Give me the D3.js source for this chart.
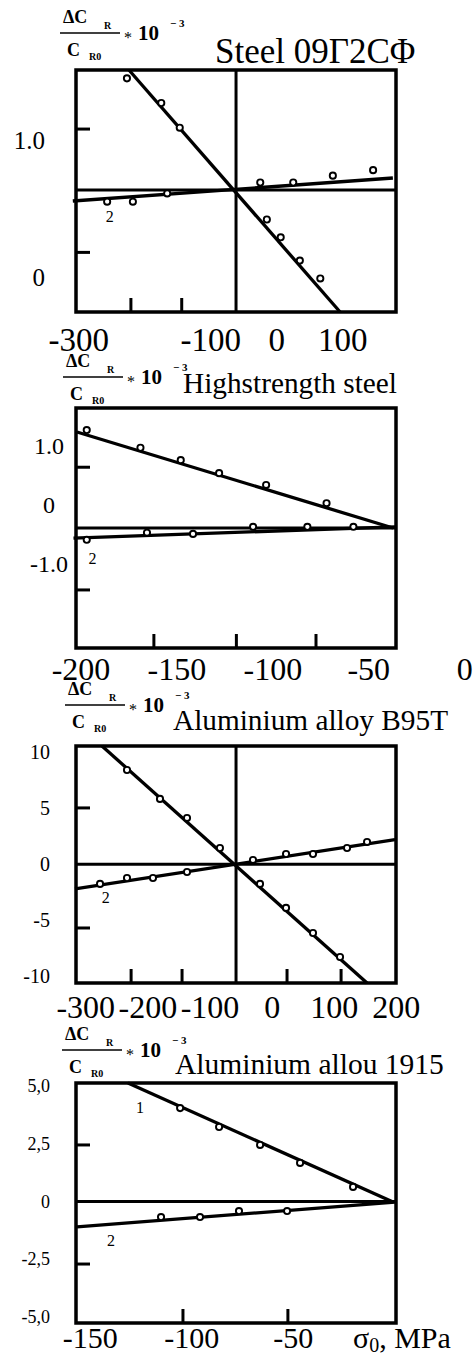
<!DOCTYPE html>
<html>
<head>
<meta charset="utf-8">
<script src="https://cdn.jsdelivr.net/npm/d3@7"></script>
<style>
  body { margin: 0; background: #fff; }
  text { font-family: "Liberation Serif", "Times New Roman", serif; fill: #000; }
</style>
</head>
<body>
<div id="my_dataviz"></div>
<script>
var width = 473
var height = 1361

// ---- Steel 09G2SF ----
var steelX1 = [-227, -175, -147, -15, 6, 35, 66]
var steelY1 = [1.45, 1.27, 1.09, 0.42, 0.29, 0.12, -0.01]
var steelX2 = [-257, -218, -166, -25, 25, 85, 146]
var steelY2 = [0.55, 0.55, 0.61, 0.69, 0.69, 0.74, 0.78]
var steelFit1 = [[-224, 1.511], [96, -0.255]]
var steelFit2 = [[-309, 0.555], [176, 0.723]]
var steelXTicks = [-300, -100, 0, 100]
var steelXLabels = ["-300", "-100", "0", "100"]
var steelYTicks = [1.0, 0]
var steelYLabels = ["1.0", "0"]
var steelXMarks = [-221, -144]
var steelYMarks = [1.08, 0.18]

// ---- Highstrength steel ----
var hsX1 = [-197, -169, -148, -128, -103.5, -72]
var hsY1 = [1.27, 0.97, 0.76, 0.54, 0.34, 0.03]
var hsX2 = [-197, -165.6, -141.6, -110.3, -82, -58]
var hsY2 = [-0.59, -0.47, -0.49, -0.37, -0.37, -0.37]
var hsFit1 = [[-202.1, 1.237], [-37.3, -0.39]]
var hsFit2 = [[-203.9, -0.56], [-36.3, -0.37]]
var hsXTicks = [-200, -150, -100, -50, 0]
var hsXLabels = ["-200", "-150", "-100", "-50", "0"]
var hsYTicks = [1.0, 0, -1.0]
var hsYLabels = ["1.0", "0", "-1.0"]
var hsXMarks = [-162, -119, -77.5]
var hsYMarks = [0.64, -1.44]

// ---- Aluminium alloy B95T ----
var b95X1 = [-233.6, -180.5, -137, -84, -19.5, 22.4, 65.8, 109.3]
var b95Y1 = [8.44, 5.85, 4.14, 1.45, -1.77, -3.92, -6.17, -8.32]
var b95X2 = [-277, -233.6, -191.8, -137, -30.8, 22.4, 65.8, 120.6, 152.8]
var b95Y2 = [-1.77, -1.24, -1.24, -0.7, 0.38, 0.91, 0.91, 1.45, 1.99]
var b95Fit1 = [[-273.9, 10.59], [152.8, -10.65]]
var b95Fit2 = [[-317.3, -2.22], [197.8, 2.19]]
var b95XTicks = [-300, -200, -100, 0, 100, 200]
var b95XLabels = ["-300", "-200", "-100", "0", "100", "200"]
var b95YTicks = [10, 5, 0, -5, -10]
var b95YLabels = ["10", "5", "0", "-5", "-10"]
var b95XMarks = [-227, -145, 24, 111]
var b95YMarks = [5.04, -5.72]

// ---- Aluminium allou 1915 ----
var al1915X1 = [-105.7, -86.5, -66.3, -46.6, -20.5]
var al1915Y1 = [4.05, 3.23, 2.45, 1.67, 0.63]
var al1915X2 = [-115.1, -95.9, -76.7, -53]
var al1915Y2 = [-0.68, -0.68, -0.42, -0.42]
var al1915Fit1 = [[-131.4, 5.14], [-0.8, -0.03]]
var al1915Fit2 = [[-156.5, -1.11], [0.2, -0.03]]
var al1915XTicks = [-150, -100, -50]
var al1915XLabels = ["-150", "-100", "-50"]
var al1915YTicks = [5, 2.5, 0, -2.5, -5]
var al1915YLabels = ["5,0", "2,5", "0", "-2,5", "-5,0"]
var al1915XMarks = [-104.3, -52.6]
var al1915YMarks = [2.45, -2.72]

var panels = [
  { title: "Steel 09Γ2CΦ", titleX: 215, titleY: 63, titleSize: 35, top: 70, bottom: 312,
    xDomain: [-304.2, 180.7], yDomain: [-0.255, 1.511],
    x1: steelX1, y1: steelY1, x2: steelX2, y2: steelY2, fit1: steelFit1, fit2: steelFit2,
    xTicks: steelXTicks, xLabels: steelXLabels, yTicks: steelYTicks, yLabels: steelYLabels,
    xMarks: steelXMarks, yMarks: steelYMarks, hLine: 0.635, vLine: -61.7,
    notes: [{ t: "2", x: -253, y: 0.445 }],
    xLabelSize: 33, xLabelDy: 39, yLabelSize: 25, yLabelX: 45, yAnchor: "end",
    fracX: 60, fracY: 33 },
  { title: "Highstrength steel", titleX: 183, titleY: 393, titleSize: 29.3, top: 408, bottom: 648,
    xDomain: [-202.6, -35.8], yDomain: [-2.424, 1.644],
    x1: hsX1, y1: hsY1, x2: hsX2, y2: hsY2, fit1: hsFit1, fit2: hsFit2,
    xTicks: hsXTicks, xLabels: hsXLabels, yTicks: hsYTicks, yLabels: hsYLabels,
    xMarks: hsXMarks, yMarks: hsYMarks, hLine: -0.39, vLine: null,
    notes: [{ t: "2", x: -194, y: -0.9 }],
    xLabelSize: 32, xLabelDy: 32, yLabelSize: 24, yLabelX: 49, yAnchor: "middle",
    fracX: 63, fracY: 377 },
  { title: "Aluminium alloy B95T", titleX: 173, titleY: 730, titleSize: 29.3, top: 746, bottom: 983,
    xDomain: [-315.7, 199.4], yDomain: [-10.65, 10.59],
    x1: b95X1, y1: b95Y1, x2: b95X2, y2: b95Y2, fit1: b95Fit1, fit2: b95Fit2,
    xTicks: b95XTicks, xLabels: b95XLabels, yTicks: b95YTicks, yLabels: b95YLabels,
    xMarks: b95XMarks, yMarks: b95YMarks, hLine: 0, vLine: -58.1,
    notes: [{ t: "2", x: -268, y: -3.02 }],
    xLabelSize: 32, xLabelDy: 35, yLabelSize: 20, yLabelX: 50, yAnchor: "end",
    fracX: 65, fracY: 705 },
  { title: "Aluminium allou 1915", titleX: 175, titleY: 1074, titleSize: 29.5, top: 1083, bottom: 1323,
    xDomain: [-157, 0.66], yDomain: [-5.28, 5.14],
    x1: al1915X1, y1: al1915Y1, x2: al1915X2, y2: al1915Y2, fit1: al1915Fit1, fit2: al1915Fit2,
    xTicks: al1915XTicks, xLabels: al1915XLabels, yTicks: al1915YTicks, yLabels: al1915YLabels,
    xMarks: al1915XMarks, yMarks: al1915YMarks, hLine: 0, vLine: null,
    notes: [{ t: "1", x: -125.5, y: 4.07 }, { t: "2", x: -139.7, y: -1.68 }],
    xLabelSize: 30, xLabelDy: 25, yLabelSize: 18, yLabelX: 50, yAnchor: "end",
    fracX: 62, fracY: 1050 }
]

var left = 76, right = 396

var svg = d3.select("#my_dataviz")
    .append("svg")
    .attr("width", width)
    .attr("height", height)

svg.append("rect").attr("width", width).attr("height", height).attr("fill", "#fff")

function drawPanel(p) {
    var x = d3.scaleLinear().domain(p.xDomain).range([left, right])
    var y = d3.scaleLinear().domain(p.yDomain).range([p.bottom, p.top])
    var g = svg.append("g")

    // frame
    g.append("rect")
        .attr("x", left).attr("y", p.top)
        .attr("width", right - left).attr("height", p.bottom - p.top)
        .attr("fill", "none").attr("stroke", "#000").attr("stroke-width", 3.5)

    // crossing lines
    if (p.hLine != null) {
        g.append("line")
            .attr("x1", left).attr("x2", right)
            .attr("y1", y(p.hLine)).attr("y2", y(p.hLine))
            .attr("stroke", "#000").attr("stroke-width", 3)
    }
    if (p.vLine != null) {
        g.append("line")
            .attr("x1", x(p.vLine)).attr("x2", x(p.vLine))
            .attr("y1", p.top).attr("y2", p.bottom)
            .attr("stroke", "#000").attr("stroke-width", 3)
    }

    // small tick marks on the frame
    g.selectAll(".ym").data(p.yMarks).enter().append("line")
        .attr("x1", left).attr("x2", left + 14)
        .attr("y1", function (d) { return y(d) }).attr("y2", function (d) { return y(d) })
        .attr("stroke", "#000").attr("stroke-width", 3)
    g.selectAll(".xm").data(p.xMarks).enter().append("line")
        .attr("x1", function (d) { return x(d) }).attr("x2", function (d) { return x(d) })
        .attr("y1", p.bottom - 14).attr("y2", p.bottom)
        .attr("stroke", "#000").attr("stroke-width", 3)

    // fitted lines
    var line = d3.line().x(function (d) { return x(d[0]) }).y(function (d) { return y(d[1]) })
    ;[p.fit1, p.fit2].forEach(function (f) {
        g.append("path").attr("d", line(f))
            .attr("fill", "none").attr("stroke", "#000").attr("stroke-width", 3.3)
    })

    // measured points
    var pts = p.x1.map(function (v, i) { return [v, p.y1[i]] })
        .concat(p.x2.map(function (v, i) { return [v, p.y2[i]] }))
    g.selectAll("circle").data(pts).enter().append("circle")
        .attr("cx", function (d) { return x(d[0]) })
        .attr("cy", function (d) { return y(d[1]) })
        .attr("r", 3.1)
        .attr("fill", "#fff").attr("stroke", "#000").attr("stroke-width", 1.9)

    // curve numbers
    g.selectAll(".note").data(p.notes).enter().append("text")
        .attr("x", function (d) { return x(d.x) })
        .attr("y", function (d) { return y(d.y) })
        .attr("dy", "0.35em").attr("text-anchor", "middle")
        .style("font-size", "16px")
        .text(function (d) { return d.t })

    // tick labels
    g.selectAll(".xl").data(p.xTicks).enter().append("text")
        .attr("x", function (d) { return x(d) })
        .attr("y", p.bottom + p.xLabelDy)
        .attr("text-anchor", "middle")
        .style("font-size", p.xLabelSize + "px")
        .text(function (d, i) { return p.xLabels[i] })
    g.selectAll(".yl").data(p.yTicks).enter().append("text")
        .attr("x", p.yLabelX)
        .attr("y", function (d) { return y(d) })
        .attr("dy", "0.34em")
        .attr("text-anchor", p.yAnchor)
        .style("font-size", p.yLabelSize + "px")
        .text(function (d, i) { return p.yLabels[i] })

    // title
    g.append("text")
        .attr("x", p.titleX).attr("y", p.titleY)
        .style("font-size", p.titleSize + "px")
        .text(p.title)

    // y axis quantity: dC_R / C_R0 * 10^-3
    var fx = p.fracX, fy = p.fracY
    g.append("line").attr("x1", fx).attr("x2", fx + 60).attr("y1", fy).attr("y2", fy)
        .attr("stroke", "#000").attr("stroke-width", 1.3)
    g.append("text").attr("x", fx + 3).attr("y", fy - 10)
        .style("font-size", "18px").style("font-weight", "bold").text("ΔC")
    g.append("text").attr("x", fx + 44).attr("y", fy - 4)
        .style("font-size", "10px").style("font-weight", "bold").text("R")
    g.append("text").attr("x", fx + 7).attr("y", fy + 23)
        .style("font-size", "18px").style("font-weight", "bold").text("C")
    g.append("text").attr("x", fx + 29).attr("y", fy + 27)
        .style("font-size", "10px").style("font-weight", "bold").text("R0")
    g.append("text").attr("x", fx + 64).attr("y", fy + 10)
        .style("font-size", "16px").text("*")
    g.append("text").attr("x", fx + 78).attr("y", fy + 7)
        .style("font-size", "21px").style("font-weight", "bold").text("10")
    g.append("text").attr("x", fx + 110).attr("y", fy - 6)
        .style("font-size", "11px").style("font-weight", "bold").text("− 3")
}

panels.forEach(drawPanel)

// unit label of the last panel
var unit = svg.append("text").attr("x", 353).attr("y", 1348).style("font-size", "30px")
unit.append("tspan").text("σ")
unit.append("tspan").attr("dy", 4).style("font-size", "20px").text("0")
unit.append("tspan").attr("dy", -4).text(", MPa")
</script>
</body>
</html>
